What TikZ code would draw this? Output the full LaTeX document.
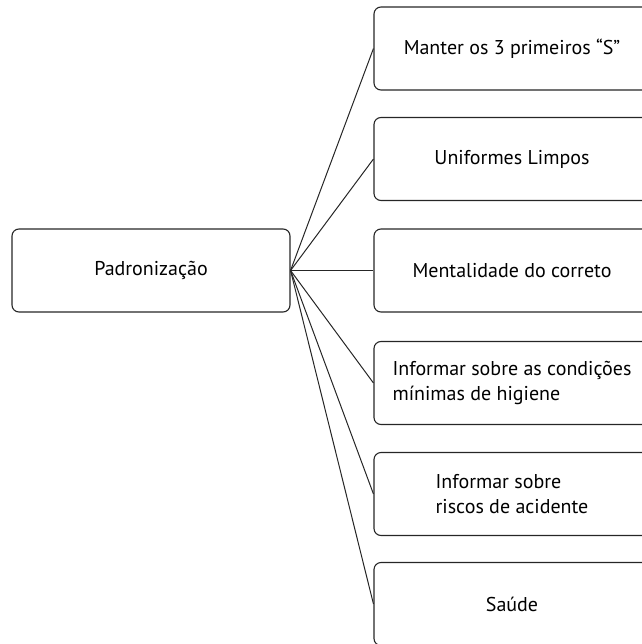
\documentclass[tikz,border=0pt]{standalone}
\usepackage{fontspec}
\setmainfont{PT Sans}
\begin{document}
\begin{tikzpicture}[x=1pt,y=-1pt,
  box/.style={draw=black!85,line width=1.1pt,rounded corners=7pt,minimum height=83pt,inner sep=0pt,align=left,font=\fontsize{20}{25}\selectfont},
  lbox/.style={box,minimum width=278pt},
  rbox/.style={box,minimum width=276pt},
  link/.style={draw=black!85,line width=1pt}]
\useasboundingbox (0,0) rectangle (641,644);
\node[lbox] (L) at (151,270.5) {Padronização};
\node[rbox] (R1) at (512,48.5) {Manter os 3 primeiros “S”};
\node[rbox] (R2) at (512,159) {Uniformes Limpos};
\node[rbox] (R3) at (512,270.5) {Mentalidade do correto};
\node[rbox] (R4) at (512,383) {Informar sobre as condições\\mínimas de higiene};
\node[rbox] (R5) at (512,494) {Informar sobre\\riscos de acidente};
\node[rbox] (R6) at (512,604) {Saúde};
\foreach \i in {1,...,6} \draw[link] (L.east) -- (R\i.west);
\end{tikzpicture}
\end{document}
